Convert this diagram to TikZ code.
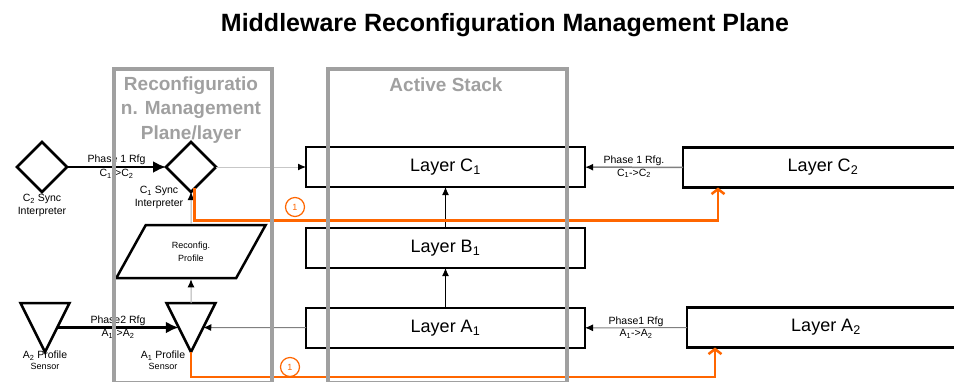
\documentclass[tikz,border=0pt]{standalone}
\usepackage{fontspec}
\setmainfont{Liberation Sans}
\usetikzlibrary{shapes.geometric, arrows.meta, positioning}
\definecolor{panelgray}{RGB}{160,160,160}
\definecolor{linkgray}{RGB}{175,175,175}
\definecolor{rfgorange}{RGB}{255,102,0}

\begin{document}
\begin{tikzpicture}[x=1pt, y=-1pt]
    % Styles
    \tikzstyle{layer} = [rectangle, draw, fill=white, line width=2.5pt, outer sep=0pt, minimum width=279pt, minimum height=40pt, font=\fontsize{18}{21}\selectfont]
    \tikzstyle{sync} = [diamond, draw, line width=2.5pt, inner sep=0pt, outer sep=0pt, minimum width=50pt, minimum height=50pt]
    \tikzstyle{sensor} = [isosceles triangle, isosceles triangle stretches, shape border rotate=270, draw, line width=2.5pt, inner sep=0pt, outer sep=0pt, minimum width=49pt, minimum height=49pt, anchor=apex]
    \tikzstyle{profile} = [trapezium, trapezium left angle=61, trapezium right angle=119, trapezium stretches, draw, line width=2.5pt, minimum width=150pt, minimum height=53pt, align=center, font=\fontsize{9}{13}\selectfont]
    \tikzstyle{panel} = [rectangle, draw=panelgray, line width=4pt, anchor=north west]
    \tikzstyle{paneltitle} = [align=center, text=panelgray, font=\bfseries\fontsize{19}{24.5}\selectfont]
    \tikzstyle{small} = [align=center, font=\fontsize{10.5}{13}\selectfont, inner sep=1pt]
    \tikzstyle{marker} = [circle, draw=rfgorange, text=rfgorange, line width=1.2pt, minimum size=19pt, inner sep=0pt, font=\fontsize{9}{10}\selectfont]
    \tikzstyle{link} = [draw=linkgray, line width=1pt, -{Latex[black, length=8pt, width=7pt]}]
    \tikzstyle{bigarrow} = [draw, line width=2.5pt, -{Latex[length=13pt, width=12pt]}]
    \tikzstyle{flow} = [draw=rfgorange, line width=2.5pt, -{Straight Barb[length=5pt, width=13pt]}]

    \useasboundingbox (0,0) rectangle (954,381);

    % --- TITLE ---
    \node [font=\bfseries\fontsize{25}{30}\selectfont] (title) at (505,25) {Middleware Reconfiguration Management Plane};

    % --- ACTIVE STACK ---
    \node [layer] (layerC1) at (445.5,167) {Layer C\textsubscript{1}};
    \node [layer, below=41pt of layerC1] (layerB1) {Layer B\textsubscript{1}};
    \node [layer, below=40pt of layerB1] (layerA1) {Layer A\textsubscript{1}};

    % --- TARGET LAYERS ---
    \node [layer, minimum width=280pt] (layerC2) at (823,167.5) {Layer C\textsubscript{2}};
    \node [layer, minimum width=278pt] (layerA2) at (826,327.5) {Layer A\textsubscript{2}};

    % --- RECONFIGURATION PLANE ---
    \node [sync] (syncC2) at (42,167) {};
    \node [sync] (syncC1) at (191,167) {};
    \node [profile] (profile) at (191,251.5) {Reconfig.\\Profile};
    \node [sensor] (sensorA2) at (45,352) {};
    \node [sensor] (sensorA1) at (191,352) {};

    \node [small, anchor=north] (syncC2lbl) at (42,193) {C\textsubscript{2} Sync\\Interpreter};
    \node [small, anchor=north] (syncC1lbl) at (159,185) {C\textsubscript{1} Sync\\Interpreter};
    \node [small, anchor=north, font=\fontsize{10.5}{11}\selectfont] (sensorA2lbl) at (45,350) {A\textsubscript{2} Profile\\{\fontsize{9}{9}\selectfont Sensor}};
    \node [small, anchor=north, font=\fontsize{10.5}{11}\selectfont] (sensorA1lbl) at (163,350) {A\textsubscript{1} Profile\\{\fontsize{9}{9}\selectfont Sensor}};

    % --- CONNECTIONS ---
    \path [bigarrow] (syncC2) -- node[small, above] {Phase 1 Rfg} node[small, below] {C\textsubscript{1}->C\textsubscript{2}} (syncC1);
    \path [bigarrow] (sensorA2.left side) -- node[small, above] {Phase2 Rfg} node[small, below] {A\textsubscript{1}->A\textsubscript{2}} (sensorA1.right side);
    \path [link, draw=linkgray!70] (syncC1) -- (layerC1);
    \path [link] (profile) -- (syncC1);
    \path [link] (sensorA1.lower side) -- (profile);
    \path [link, draw=gray] (layerA1) -- (sensorA1.left side);
    \path [link, draw=black] (layerB1) -- (layerC1);
    \path [link, draw=black] (layerA1) -- (layerB1);
    \path [link, draw=gray, line width=1.5pt] (layerC2) -- node[small, above] {Phase 1 Rfg.} node[small, below] {C\textsubscript{1}->C\textsubscript{2}} (layerC1);
    \path [link, draw=gray] (layerA2) -- node[small, above] {Phase1 Rfg} node[small, below] {A\textsubscript{1}->A\textsubscript{2}} (layerA1);

    % Phase 1 flow to the target layers
    \path [flow] (syncC1.-80) -- ++(0,32) -| ([xshift=35pt]layerC2.south west);
    \path [flow] (sensorA1.apex) -- ++(0,25) -| ([xshift=28pt]layerA2.south west);
    \node [marker] (step1) at (295,207) {1};
    \node [marker] (step2) at (290,367) {1};

    % --- PANELS ---
    \node [panel, minimum width=158pt, minimum height=314pt] (rmpanel) at (112,67) {};
    \node [panel, minimum width=239pt, minimum height=314pt] (stackpanel) at (326,67) {};
    \node [paneltitle] (rmtitle) at (191,110) {Reconfiguratio\\n. Management\\Plane/layer};
    \node [paneltitle] (stacktitle) at (446,85) {Active Stack};

\end{tikzpicture}
\end{document}
